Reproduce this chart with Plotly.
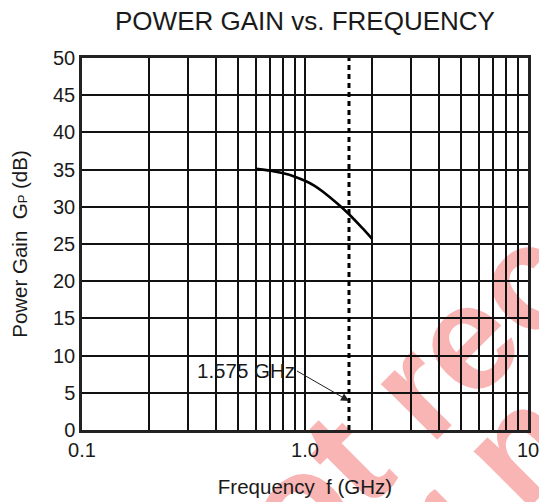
import math
import plotly.graph_objects as go

# ---- data ----
freq_ghz = [0.6, 0.7, 0.8, 0.9, 1.0, 1.1, 1.2, 1.4, 1.575, 1.8, 2.0]
gain_db = [35.1, 34.85, 34.5, 34.05, 33.5, 32.85, 32.05, 30.4, 29.0, 27.2, 25.7]

marker_freq = 1.575
marker_label = "1.575 GHz"
marker_arrow_gain = 3.9

x_grid_vals = [0.1, 0.2, 0.3, 0.4, 0.5, 0.6, 0.7, 0.8, 0.9,
               1, 2, 3, 4, 5, 6, 7, 8, 9, 10]
x_label_map = {0.1: "0.1", 1: "1.0", 10: "10"}
x_tick_text = [x_label_map.get(v, "") for v in x_grid_vals]
y_ticks = [0, 5, 10, 15, 20, 25, 30, 35, 40, 45, 50]

title_text = "POWER GAIN vs. FREQUENCY"
x_title = "Frequency\u00a0\u00a0f (GHz)"
y_title = "Power Gain\u00a0\u00a0G<span style='font-size:13px'>P</span> (dB)"

watermark_1 = "not recommended"
watermark_2 = "for new design"

FONT = "Liberation Sans, Arial, Helvetica, sans-serif"
INK = "#1a1a1a"

W, H = 539, 494  # page body has an 8px margin

fig = go.Figure()

fig.add_trace(go.Scatter(
    x=[marker_freq, marker_freq], y=[0, 50], mode="lines",
    line=dict(color="black", width=3, dash="5px,4px"),
    hoverinfo="skip", showlegend=False,
))

fig.add_trace(go.Scatter(
    x=freq_ghz, y=gain_db, mode="lines",
    line=dict(color="black", width=2.6, shape="spline", smoothing=0.8),
    showlegend=False,
))

fig.add_annotation(
    x=math.log10(marker_freq), xref="x", y=marker_arrow_gain, yref="y",
    text=marker_label, showarrow=True,
    ax=-52, ay=-30, axref="pixel", ayref="pixel",
    xanchor="right", yanchor="middle",
    arrowhead=2, arrowsize=1.6, arrowwidth=1, arrowcolor="#222",
    font=dict(size=20.5, color=INK, family=FONT),
)

wm_font = dict(family=FONT, size=150, color="#F9B4B4", weight="bold")
for txt, cx, cy in [(watermark_1, 1.270, 0.792), (watermark_2, 1.339, 0.445)]:
    fig.add_shape(
        type="rect", xref="paper", yref="paper",
        x0=cx - 0.01, x1=cx + 0.01, y0=cy - 0.01, y1=cy + 0.01,
        line=dict(width=0), fillcolor="rgba(0,0,0,0)", layer="below",
        label=dict(text=txt, textangle=-45, font=wm_font,
                   textposition="middle center"),
    )

fig.update_layout(
    width=W, height=H,
    margin=dict(l=74, r=19, t=50, b=72, autoexpand=False),
    paper_bgcolor="white",
    plot_bgcolor="rgba(0,0,0,0)",
    font=dict(family=FONT, color=INK),
    title=dict(text=title_text, x=0.5, xref="paper", xanchor="center",
               y=1 - 12.5 / H, yref="container", yanchor="middle",
               font=dict(size=26, color=INK, family=FONT)),
    showlegend=False,
)

fig.update_xaxes(
    type="log", range=[-1, 1], automargin=False,
    tickmode="array", tickvals=x_grid_vals, ticktext=x_tick_text,
    showgrid=True, gridcolor="#111", gridwidth=1.5,
    showline=True, linecolor="#222", linewidth=2.5, mirror=True,
    ticks="", tickfont=dict(size=20, color=INK),
    title=dict(text=x_title, font=dict(size=20.5, color=INK), standoff=20),
    zeroline=False,
)
fig.update_yaxes(
    range=[0, 50], tickmode="array", tickvals=y_ticks, automargin=False,
    showgrid=True, gridcolor="#111", gridwidth=1.5,
    showline=True, linecolor="#222", linewidth=2.5, mirror=True,
    ticks="", tickfont=dict(size=20, color=INK),
    title=dict(text=y_title, font=dict(size=20.5, color=INK), standoff=23),
    zeroline=False,
)

fig.write_html("out.html")
